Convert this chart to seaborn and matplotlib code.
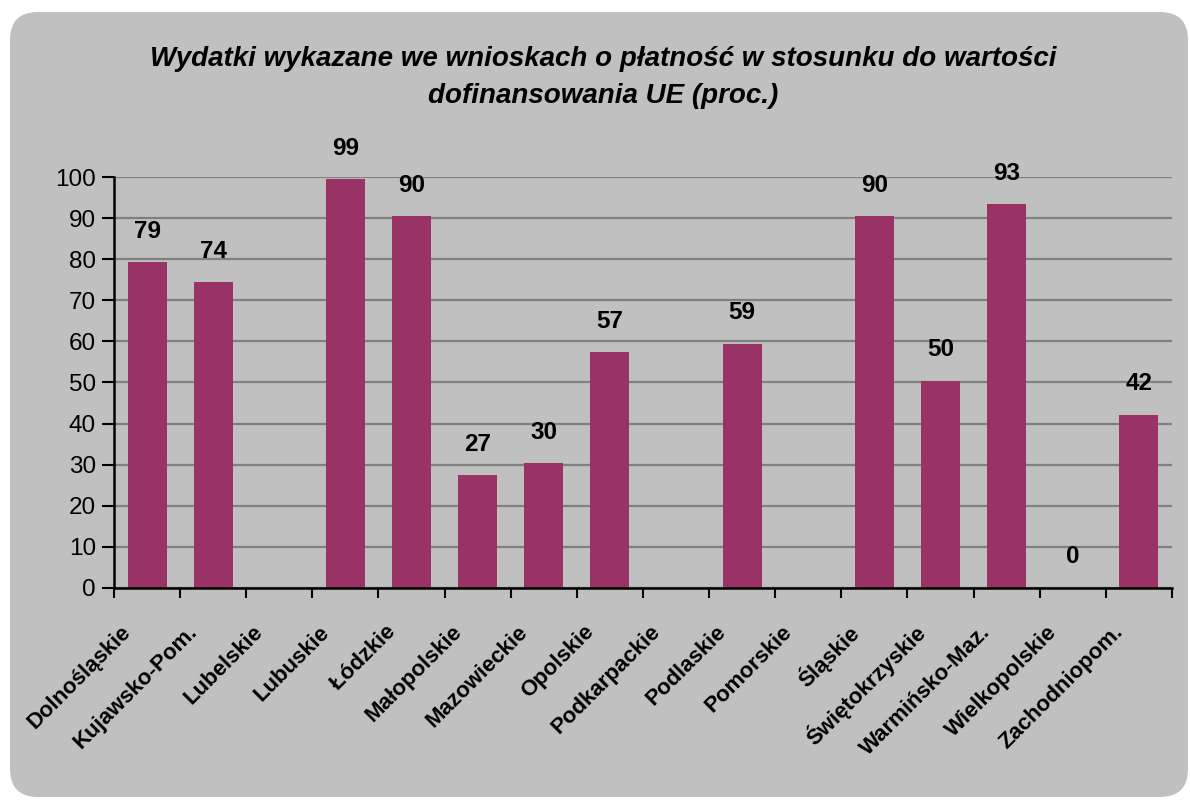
import numpy as np
import pandas as pd
import seaborn as sns
import matplotlib.pyplot as plt
from matplotlib.patches import FancyBboxPatch
from matplotlib.ticker import MultipleLocator, FixedLocator
from matplotlib.transforms import ScaledTranslation

# Dane
regiony = ["Dolnośląskie", "Kujawsko-Pom.", "Lubelskie", "Lubuskie", "Łódzkie",
           "Małopolskie", "Mazowieckie", "Opolskie", "Podkarpackie", "Podlaskie",
           "Pomorskie", "Śląskie", "Świętokrzyskie", "Warmińsko-Maz.",
           "Wielkopolskie", "Zachodniopom."]
wartosci = [79.3, 74.4, np.nan, 99.4, 90.4, 27.4, 30.4, 57.4, np.nan, 59.4,
            np.nan, 90.4, 50.4, 93.4, 0.0, 42.1]
tytul = "Wydatki wykazane we wnioskach o płatność w stosunku do wartości\ndofinansowania UE (proc.)"

df = pd.DataFrame({"region": regiony, "proc": wartosci})

sns.set_style("white")
plt.rcParams["font.family"] = ["Liberation Sans", "DejaVu Sans"]
plt.rcParams["text.color"] = "black"
plt.rcParams["xtick.color"] = "black"
plt.rcParams["ytick.color"] = "black"

szary = "#C0C0C0"
fig = plt.figure(figsize=(11.9, 8.01), dpi=100, facecolor="white")

# zaokraglone tlo
tlo = FancyBboxPatch((10, 4), 1178, 785, boxstyle="round,pad=0,rounding_size=28",
                     transform=None, facecolor=szary, edgecolor="none", zorder=-10)
fig.add_artist(tlo)

ax = fig.add_axes([0.0958, 0.266, 0.889, 0.513])
ax.set_facecolor(szary)

sns.barplot(data=df.dropna(), x="region", y="proc", order=regiony, color="#993366",
            width=0.59, saturation=1, linewidth=0, ax=ax, zorder=3)

# etykiety nad slupkami
for i, v in enumerate(wartosci):
    if np.isnan(v):
        continue
    ax.annotate(f"{v:.0f}", (i, v), xytext=(0, 14), textcoords="offset points",
                ha="center", va="bottom", fontsize=17.5, fontweight="bold")

ax.set_ylim(0, 100)
ax.set_xlim(-0.5, len(regiony) - 0.5)
ax.yaxis.set_major_locator(MultipleLocator(10))
ax.grid(axis="y", color="#808080", linewidth=1.6, zorder=1)
ax.set_axisbelow(True)

for s in ["top", "right"]:
    ax.spines[s].set_visible(False)
for s in ["left", "bottom"]:
    ax.spines[s].set_color("black")
    ax.spines[s].set_linewidth(1.8)
    ax.spines[s].set_zorder(5)

# podpisy osi X (przesuniete jak w oryginale)
ax.set_xticks(range(len(regiony)))
ax.set_xticklabels([])
przesun = ScaledTranslation(-19 / 100, -41 / 100, fig.dpi_scale_trans)
for i, nazwa in enumerate(regiony):
    ax.text(i, 0, nazwa, transform=ax.get_xaxis_transform() + przesun,
            rotation=45, ha="right", va="center", rotation_mode="anchor",
            fontsize=16, fontweight="bold")

ax.xaxis.set_minor_locator(FixedLocator(np.arange(-0.5, len(regiony), 1)))
ax.tick_params(axis="x", which="major", length=0)
ax.tick_params(axis="x", which="minor", length=7, width=1.5, direction="out",
               color="black", bottom=True)
ax.tick_params(axis="y", length=9, width=1.5, direction="out", color="black",
               labelsize=17.5, pad=4, left=True)
ax.set_xlabel("")
ax.set_ylabel("")

fig.text(0.507, 1 - 103 / 801, tytul, ha="center", va="baseline", fontsize=20,
         fontweight="bold", fontstyle="italic", linespacing=1.55)

plt.savefig("out.png", dpi=100, facecolor="white")
